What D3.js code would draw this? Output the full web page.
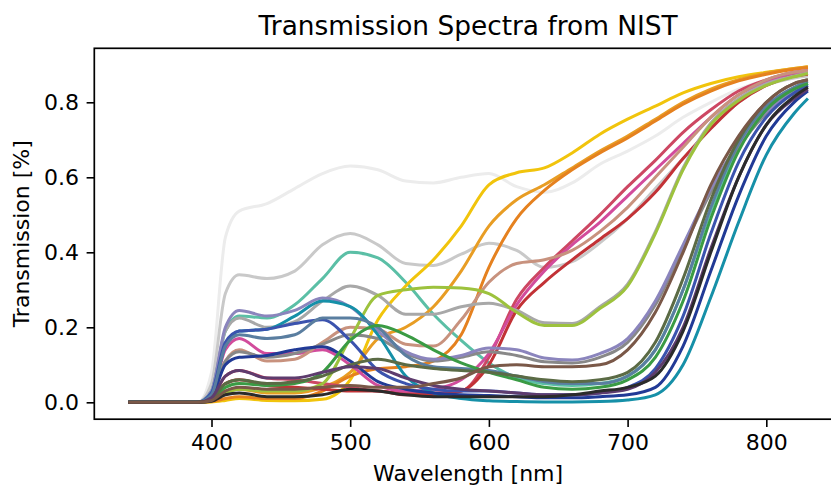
<!DOCTYPE html>
<html>
<head>
<meta charset="utf-8">
<script src="https://cdn.jsdelivr.net/npm/d3@7"></script>
<style>
  html, body { margin: 0; padding: 0; background: #fff; }
  svg { display: block; }
  text { font-family: "DejaVu Sans", sans-serif; fill: #000; }
</style>
</head>
<body>
<svg id="chart" width="831" height="486"></svg>
<script>
// Sampled wavelengths (nm) shared by every spectrum
const wavelengths = [340, 380, 390, 400, 410, 420, 440, 460, 480, 500, 520, 540, 560, 580, 600, 620, 640, 660, 680, 700, 720, 740, 760, 780, 800, 820, 830];

// Transmission of each filter at those wavelengths
const lightGray   = [0,0,0,0.08,0.44,0.51,0.53,0.57,0.61,0.63,0.62,0.59,0.585,0.6,0.61,0.575,0.56,0.585,0.635,0.67,0.71,0.76,0.8,0.835,0.86,0.875,0.88];
const silver      = [0,0,0,0.05,0.29,0.34,0.33,0.35,0.42,0.45,0.42,0.37,0.365,0.395,0.424,0.405,0.36,0.375,0.425,0.49,0.57,0.65,0.73,0.8,0.845,0.865,0.87];
const tealGreen   = [0,0,0,0.03,0.19,0.23,0.225,0.26,0.33,0.4,0.385,0.32,0.235,0.165,0.105,0.065,0.05,0.045,0.05,0.07,0.14,0.3,0.51,0.68,0.78,0.83,0.85];
const yellow      = [0,0,0,0.001,0.005,0.01,0.005,0.004,0.008,0.06,0.22,0.31,0.38,0.47,0.58,0.612,0.625,0.665,0.715,0.755,0.79,0.825,0.85,0.868,0.88,0.89,0.895];
const goldOrange  = [0,0,0,0.004,0.03,0.035,0.025,0.025,0.04,0.08,0.17,0.2,0.255,0.35,0.47,0.54,0.58,0.625,0.67,0.71,0.755,0.8,0.835,0.86,0.878,0.89,0.895];
const orange      = [0,0,0,0.002,0.01,0.015,0.01,0.01,0.03,0.07,0.09,0.095,0.11,0.18,0.36,0.49,0.565,0.62,0.665,0.705,0.75,0.795,0.83,0.857,0.875,0.888,0.893];
const crimson     = [0,0,0,0.01,0.07,0.085,0.065,0.06,0.05,0.04,0.03,0.025,0.025,0.03,0.12,0.275,0.36,0.43,0.5,0.575,0.645,0.72,0.78,0.83,0.86,0.88,0.885];
const magenta     = [0,0,0,0.02,0.14,0.17,0.13,0.13,0.14,0.1,0.045,0.03,0.035,0.06,0.13,0.26,0.35,0.42,0.48,0.55,0.62,0.69,0.76,0.82,0.855,0.875,0.88];
const salmon      = [0,0,0,0.02,0.11,0.14,0.11,0.115,0.16,0.2,0.195,0.155,0.15,0.22,0.32,0.37,0.38,0.405,0.455,0.52,0.6,0.68,0.76,0.82,0.86,0.88,0.885];
const darkRed     = [0,0,0,0.008,0.05,0.06,0.045,0.04,0.035,0.03,0.03,0.02,0.02,0.03,0.1,0.245,0.32,0.38,0.435,0.49,0.56,0.65,0.73,0.8,0.845,0.87,0.875];
const midGray     = [0,0,0,0.03,0.19,0.225,0.2,0.215,0.27,0.31,0.285,0.235,0.235,0.255,0.264,0.245,0.212,0.21,0.255,0.315,0.455,0.625,0.745,0.81,0.85,0.87,0.878];
const yellowGreen = [0,0,0,0.005,0.025,0.035,0.03,0.03,0.05,0.17,0.285,0.3,0.307,0.305,0.29,0.24,0.205,0.205,0.25,0.31,0.45,0.62,0.74,0.805,0.845,0.868,0.877];
const dimGray     = [0,0,0,0.015,0.11,0.135,0.12,0.13,0.155,0.18,0.17,0.13,0.11,0.12,0.135,0.125,0.108,0.105,0.12,0.16,0.26,0.41,0.56,0.68,0.77,0.825,0.84];
const violet      = [0,0,0,0.03,0.2,0.245,0.23,0.245,0.278,0.255,0.19,0.135,0.115,0.125,0.145,0.14,0.118,0.113,0.13,0.17,0.27,0.42,0.57,0.69,0.775,0.83,0.845];
const teal        = [0,0,0,0.025,0.15,0.19,0.195,0.23,0.27,0.255,0.18,0.07,0.025,0.01,0.004,0.002,0.001,0.001,0.002,0.006,0.02,0.1,0.28,0.48,0.66,0.77,0.81];
const royalBlue   = [0,0,0,0.025,0.16,0.19,0.195,0.21,0.22,0.165,0.085,0.05,0.035,0.03,0.03,0.025,0.02,0.02,0.025,0.04,0.09,0.23,0.45,0.64,0.76,0.825,0.845];
const navy        = [0,0,0,0.015,0.1,0.12,0.125,0.14,0.148,0.11,0.055,0.035,0.025,0.02,0.018,0.015,0.012,0.012,0.015,0.02,0.04,0.15,0.35,0.55,0.71,0.8,0.83];
const steelBlue   = [0,0,0,0.02,0.15,0.18,0.17,0.18,0.225,0.225,0.2,0.125,0.095,0.09,0.085,0.07,0.055,0.05,0.05,0.07,0.14,0.3,0.52,0.69,0.79,0.84,0.855];
const green       = [0,0,0,0.007,0.04,0.05,0.045,0.05,0.08,0.165,0.205,0.18,0.14,0.105,0.08,0.06,0.04,0.035,0.04,0.06,0.12,0.27,0.49,0.67,0.78,0.835,0.85];
const olive       = [0,0,0,0.008,0.05,0.06,0.05,0.055,0.07,0.1,0.115,0.1,0.09,0.085,0.08,0.07,0.06,0.055,0.06,0.08,0.16,0.33,0.54,0.7,0.8,0.85,0.86];
const purple      = [0,0,0,0.012,0.07,0.085,0.065,0.065,0.08,0.095,0.09,0.065,0.045,0.035,0.03,0.025,0.02,0.02,0.025,0.035,0.08,0.2,0.41,0.6,0.74,0.81,0.835];
const black       = [0,0,0,0.003,0.02,0.025,0.015,0.015,0.02,0.035,0.03,0.02,0.015,0.015,0.015,0.015,0.015,0.02,0.03,0.04,0.07,0.19,0.4,0.6,0.74,0.815,0.84];
const brown       = [0,0,0,0.005,0.03,0.04,0.035,0.035,0.04,0.045,0.04,0.04,0.05,0.065,0.095,0.1,0.095,0.095,0.1,0.14,0.24,0.4,0.58,0.71,0.8,0.85,0.86];

// Axis ticks
const xTicks = [400, 500, 600, 700, 800];
const yTicks = [0.0, 0.2, 0.4, 0.6, 0.8];

// Spectra in drawing order, each with its line colour
const spectra = [
  { values: lightGray,   color: "#ececec" },
  { values: silver,      color: "#c9c9c9" },
  { values: tealGreen,   color: "#5bbfa6" },
  { values: yellow,      color: "#f1c40c" },
  { values: goldOrange,  color: "#e89d24" },
  { values: orange,      color: "#e5811f" },
  { values: crimson,     color: "#cd4763" },
  { values: magenta,     color: "#d24c9c" },
  { values: salmon,      color: "#c8927e" },
  { values: darkRed,     color: "#c23236" },
  { values: midGray,     color: "#a8a8a8" },
  { values: yellowGreen, color: "#9dc23d" },
  { values: dimGray,     color: "#888888" },
  { values: violet,      color: "#8b85bd" },
  { values: teal,        color: "#1690a8" },
  { values: royalBlue,   color: "#3b53ae" },
  { values: navy,        color: "#213a96" },
  { values: steelBlue,   color: "#5a7ea0" },
  { values: green,       color: "#3a9b44" },
  { values: olive,       color: "#5b6b45" },
  { values: purple,      color: "#5e3c6e" },
  { values: black,       color: "#2b2b2b" },
  { values: brown,       color: "#7a5848" }
];

const svg = d3.select("#chart");
const plotLeft = 94.3, plotRight = 841.9, plotTop = 48.3, plotBottom = 419.2;

const x = d3.scaleLinear().domain([315.5, 854.5]).range([plotLeft, plotRight]);
const y = d3.scaleLinear().domain([-0.045, 0.944]).range([plotBottom, plotTop]);

svg.append("defs").append("clipPath").attr("id", "plot-clip")
  .append("rect").attr("x", plotLeft).attr("y", plotTop)
  .attr("width", plotRight - plotLeft).attr("height", plotBottom - plotTop);

const line = d3.line()
  .x((d, i) => x(wavelengths[i]))
  .y(d => y(d))
  .curve(d3.curveMonotoneX);

svg.append("g").attr("clip-path", "url(#plot-clip)")
  .selectAll("path")
  .data(spectra)
  .join("path")
  .attr("d", d => line(d.values))
  .attr("fill", "none")
  .attr("stroke", d => d.color)
  .attr("stroke-width", 3)
  .attr("stroke-linejoin", "round")
  .attr("stroke-linecap", "butt");

// Axes
const tickLen = 7.7, tickPad = 7.7;
const xAxis = svg.append("g").attr("transform", `translate(0,${plotBottom})`)
  .call(d3.axisBottom(x).tickValues(xTicks).tickFormat(d3.format("d"))
    .tickSize(tickLen).tickPadding(tickPad));
const yAxis = svg.append("g").attr("transform", `translate(${plotLeft},0)`)
  .call(d3.axisLeft(y).tickValues(yTicks).tickFormat(d3.format(".1f"))
    .tickSize(tickLen).tickPadding(tickPad));

[xAxis, yAxis].forEach(g => {
  g.select(".domain").remove();
  g.selectAll(".tick line").attr("stroke", "#000").attr("stroke-width", 1.6);
  g.selectAll(".tick text").attr("font-size", 22).attr("font-family", "DejaVu Sans").attr("fill", "#000");
});

// Frame
svg.append("rect")
  .attr("x", plotLeft).attr("y", plotTop)
  .attr("width", plotRight - plotLeft).attr("height", plotBottom - plotTop)
  .attr("fill", "none").attr("stroke", "#000").attr("stroke-width", 1.7);

// Title and axis labels
svg.append("text")
  .attr("x", (plotLeft + plotRight) / 2).attr("y", 35)
  .attr("text-anchor", "middle").attr("font-size", 26.4)
  .text("Transmission Spectra from NIST");

svg.append("text")
  .attr("x", (plotLeft + plotRight) / 2).attr("y", 481)
  .attr("text-anchor", "middle").attr("font-size", 22)
  .text("Wavelength [nm]");

svg.append("text")
  .attr("transform", `translate(29,${(plotTop + plotBottom) / 2}) rotate(-90)`)
  .attr("text-anchor", "middle").attr("font-size", 22)
  .text("Transmission [%]");
</script>
</body>
</html>
